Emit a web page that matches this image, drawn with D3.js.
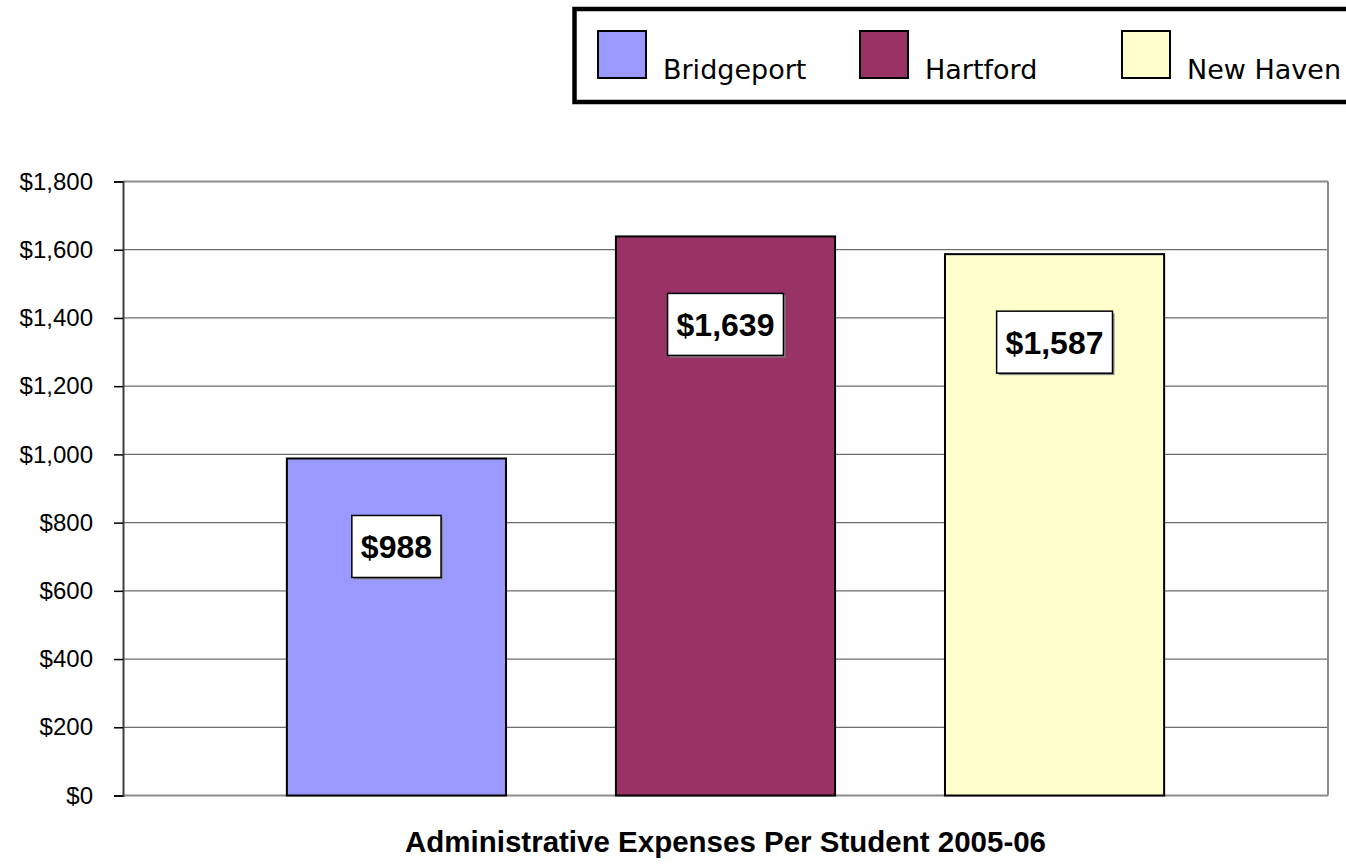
<!DOCTYPE html>
<html>
<head>
<meta charset="utf-8">
<script src="https://cdn.jsdelivr.net/npm/d3@7"></script>
<style>
  body { margin: 0; background: #fff; }
  svg { display: block; }
</style>
</head>
<body>
<svg class="bar-chart"></svg>
<script>
var cities = ["Bridgeport", "Hartford", "New Haven"]
var expenses = [988, 1639, 1587]
var colors = ["#9999FF", "#993366", "#FFFFCC"]
var yTicks = [0, 200, 400, 600, 800, 1000, 1200, 1400, 1600, 1800]
var title = "Administrative Expenses Per Student 2005-06"

var width = 1346
var height = 864
var plot = {left: 123, right: 1328, top: 181.5, bottom: 795.5}

var data = cities.map(function(c, i) { return {city: c, value: expenses[i], color: colors[i]} })

var svg = d3.select(".bar-chart")
    .attr("width", width)
    .attr("height", height)

var y = d3.scaleLinear().domain([0, 1800]).range([plot.bottom, plot.top])
var x = d3.scaleBand().domain(cities).range([plot.left, plot.right])
    .paddingInner(0.334)
    .paddingOuter(0.498)

var fmt = function(v) { return "$" + d3.format(",")(v) }

// gridlines
svg.append("g")
  .selectAll("line")
  .data(yTicks)
  .enter().append("line")
    .attr("x1", plot.left)
    .attr("x2", plot.right)
    .attr("y1", function(d) { return y(d) })
    .attr("y2", function(d) { return y(d) })
    .attr("stroke", function(d) { return d === 0 || d === 1800 ? "#8c8c8c" : "#6e6e6e" })
    .attr("stroke-width", function(d) { return d === 0 || d === 1800 ? 2 : 1.3 })

// right border of plot area
svg.append("line")
    .attr("x1", plot.right).attr("x2", plot.right)
    .attr("y1", plot.top).attr("y2", plot.bottom)
    .attr("stroke", "#8c8c8c")
    .attr("stroke-width", 2)

// y axis
var yAxis = svg.append("g")
    .attr("transform", "translate(" + plot.left + ",0)")
    .call(d3.axisLeft(y).tickValues(yTicks).tickFormat(fmt).tickSize(9).tickPadding(21))

yAxis.select(".domain").attr("stroke", "#404040").attr("stroke-width", 2)
yAxis.selectAll(".tick line").attr("stroke", "#000").attr("stroke-width", 1.5)
yAxis.selectAll(".tick text")
    .attr("fill", "#000")
    .style("font-family", "'Liberation Sans', Arial, sans-serif")
    .style("font-size", "24px")

// bars
svg.append("g")
  .selectAll("rect")
  .data(data)
  .enter().append("rect")
    .attr("x", function(d) { return x(d.city) })
    .attr("y", function(d) { return y(d.value) })
    .attr("width", x.bandwidth())
    .attr("height", function(d) { return y(0) - y(d.value) })
    .attr("fill", function(d) { return d.color })
    .attr("stroke", "#000")
    .attr("stroke-width", 2)

// value labels
var labels = svg.append("g")
  .selectAll("g")
  .data(data)
  .enter().append("g")
    .attr("transform", function(d) {
      return "translate(" + (x(d.city) + x.bandwidth() / 2) + "," + (y(d.value) + 88) + ")"
    })

labels.append("rect").attr("class", "shadow")
labels.append("rect").attr("class", "box")

labels.append("text")
    .attr("text-anchor", "middle")
    .attr("dy", "0.36em")
    .style("font-family", "'Liberation Sans', Arial, sans-serif")
    .style("font-size", "32px")
    .style("font-weight", "bold")
    .text(function(d) { return fmt(d.value) })

labels.each(function() {
  var g = d3.select(this)
  var w = g.select("text").node().getComputedTextLength() + 18
  var h = 62
  g.select(".shadow")
      .attr("x", -w / 2 + 2).attr("y", -h / 2 + 2)
      .attr("width", w).attr("height", h)
      .attr("fill", "#888")
  g.select(".box")
      .attr("x", -w / 2).attr("y", -h / 2)
      .attr("width", w).attr("height", h)
      .attr("fill", "#fff")
      .attr("stroke", "#000")
      .attr("stroke-width", 1.5)
})

// title
svg.append("text")
    .attr("x", 725.5)
    .attr("y", 852)
    .attr("text-anchor", "middle")
    .style("font-family", "'Liberation Sans', Arial, sans-serif")
    .style("font-size", "29.5px")
    .style("font-weight", "bold")
    .text(title)

// legend
var legend = svg.append("g")

legend.append("rect")
    .attr("x", 574.5)
    .attr("y", 9)
    .attr("width", 800)
    .attr("height", 93)
    .attr("fill", "#fff")
    .attr("stroke", "#000")
    .attr("stroke-width", 4.5)

var legendX = d3.scalePoint().domain(cities).range([598, 1122])

var items = legend.selectAll("g.item")
  .data(data)
  .enter().append("g")
    .attr("class", "item")
    .attr("transform", function(d) { return "translate(" + legendX(d.city) + ",0)" })

items.append("rect")
    .attr("x", 0)
    .attr("y", 31)
    .attr("width", 48)
    .attr("height", 47)
    .attr("fill", function(d) { return d.color })
    .attr("stroke", "#000")
    .attr("stroke-width", 2)

items.append("text")
    .attr("x", 65)
    .attr("y", 79)
    .style("font-family", "'DejaVu Sans', sans-serif")
    .style("font-size", "27px")
    .text(function(d) { return d.city })
</script>
</body>
</html>
